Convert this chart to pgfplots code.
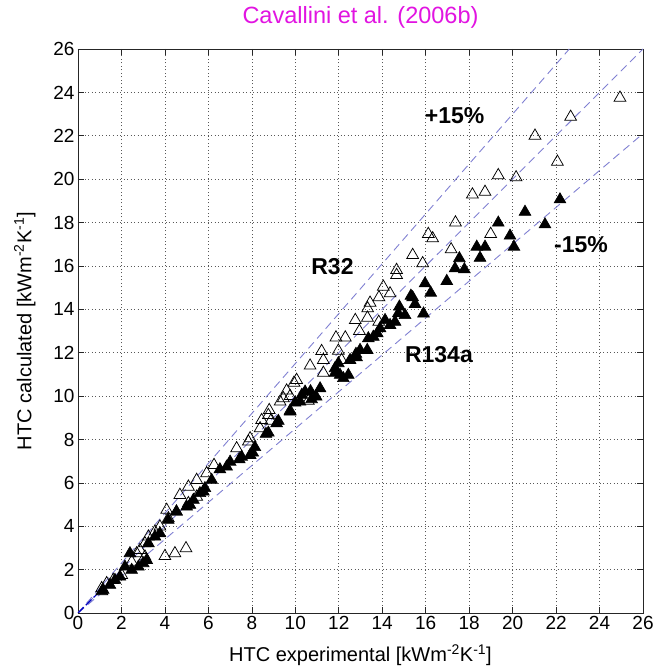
\documentclass[border=0pt]{standalone}
\usepackage{fontspec}
\setmainfont{Liberation Sans}
\usepackage{pgfplots}
\pgfplotsset{compat=1.18}
\definecolor{refline}{RGB}{128,128,210}
\definecolor{titlemag}{RGB}{225,20,225}
\begin{document}
\begin{tikzpicture}
\useasboundingbox (-78pt,-56pt) rectangle (585pt,613pt);
\begin{axis}[
  at={(0,0)}, anchor=south west,
  scale only axis, width=565pt, height=564pt,
  xmin=0, xmax=26, ymin=0, ymax=26,
  xtick={0,2,...,26}, ytick={0,2,...,26},
  tick align=inside, major tick length=6pt,
  grid=major, major grid style={dash pattern=on 1pt off 2.5pt, black!65, line width=0.6pt},
  axis line style={line width=0.7pt, black!85},
  tick style={black!85, line width=0.6pt},
  ticklabel style={font=\fontsize{19}{22}\selectfont},
  /pgf/number format/assume math mode=true,
  xlabel={HTC experimental [kWm\textsuperscript{-2}K\textsuperscript{-1}]},
  ylabel={HTC calculated [kWm\textsuperscript{-2}K\textsuperscript{-1}]},
  xlabel style={font=\fontsize{20}{24}\selectfont, at={(axis description cs:0.5,-0.0745)}, anchor=center},
  ylabel style={font=\fontsize{20}{24}\selectfont, at={(axis description cs:-0.094,0.5)}, anchor=center},
  title={Cavallini et al. (2006b)},
  title style={font=\fontsize{23.5}{27}\selectfont, text=titlemag, at={(axis description cs:0.5,1.0445)}, anchor=center},
]
% reference lines
\addplot[refline, dash pattern=on 8pt off 5pt, line width=0.9pt] coordinates {(0,0) (26,26)};
\addplot[refline, dash pattern=on 8pt off 5pt, line width=0.9pt] coordinates {(0,0) (22.609,26)};
\addplot[refline, dash pattern=on 8pt off 5pt, line width=0.9pt] coordinates {(0,0) (26,22.1)};
\addplot[blue!75!black, dash pattern=on 8pt off 3pt, line width=1.1pt] coordinates {(0,0) (0.9,0.9)};

% R134a (filled)
\addplot[only marks, mark=triangle*, mark size=6.8pt, mark options={draw=black, fill=black, line width=0.6pt}] coordinates {
(1.1,1.0) (1.16,1.06) (1.47,1.29) (1.7,1.52) (1.93,1.67) (2.16,2.13) (2.39,2.75) (2.47,1.98)
(2.78,2.13) (3.0,2.29) (3.16,2.44) (3.24,3.21) (3.54,3.52) (3.77,3.67) (4.15,4.29) (4.53,4.67)
(5.0,4.9) (5.15,4.98) (5.31,5.21) (5.61,5.52) (5.77,5.59) (5.84,5.75) (6.15,6.13) (6.53,6.62)
(6.84,6.74) (7.0,6.97) (7.42,7.08) (7.53,7.2) (7.92,7.28) (8.04,7.39) (8.14,7.64) (8.65,8.25)
(8.76,8.31) (9.14,8.74) (9.22,8.85) (9.76,9.28) (9.99,9.69) (10.22,9.74) (10.75,9.85) (10.96,9.97)
(10.3,10.05) (10.45,10.2) (10.7,10.22) (11.14,10.35) (12.21,10.82) (12.06,10.97) (12.44,10.97)
(11.83,11.07) (11.83,11.28) (11.98,11.51) (12.52,11.66) (12.82,11.78) (12.79,11.94) (12.98,12.12)
(13.31,12.12) (13.36,12.66) (13.59,12.73) (13.77,12.89) (13.9,13.12) (14.36,13.27) (14.59,13.42)
(14.13,13.5) (15.05,13.73) (14.74,13.81) (14.79,14.12) (15.9,13.8) (15.51,14.24) (15.4,14.55)
(15.32,14.62) (16.23,14.76) (15.97,15.19) (16.97,15.3) (17.78,15.84) (17.35,15.88) (17.55,16.35)
(18.5,16.37) (18.35,16.88) (18.73,16.88) (20.06,16.88) (19.88,17.39) (21.49,17.91) (19.34,17.99)
(20.57,18.49) (22.18,19.06)
};
% R32 (open)
\addplot[only marks, mark=triangle, mark size=6.8pt, mark options={draw=black, line width=0.75pt}] coordinates {
(1.09,1.14) (1.32,1.37) (1.62,1.52) (2.01,1.75) (2.47,2.36) (2.7,2.75) (2.85,2.9) (3.08,2.6)
(3.08,3.21) (3.24,3.52) (3.54,3.75) (3.77,3.98) (4.16,4.36) (4.08,4.75) (4.53,4.67) (4.0,2.62)
(4.46,2.75) (4.97,2.98) (4.69,5.44) (5.08,5.06) (5.46,5.36) (5.08,5.82) (5.46,6.13) (5.92,6.44)
(6.26,6.82) (7.3,7.59) (7.84,7.9) (7.92,8.05) (8.38,8.51) (8.45,8.89) (8.87,8.86) (8.76,9.12)
(8.8,9.35) (9.3,9.74) (9.45,9.9) (9.76,10.0) (9.6,10.25) (9.76,9.32) (9.94,10.61) (10.06,10.74)
(10.6,9.78) (10.68,11.4) (11.29,11.07) (11.29,11.66) (12.13,11.66) (11.21,12.07) (11.98,12.09)
(11.87,12.7) (12.3,12.7) (12.95,13.0) (12.76,13.5) (13.84,13.42) (13.32,13.61) (13.33,14.04)
(13.44,14.3) (14.85,13.86) (13.85,14.55) (14.36,14.73) (14.05,15.04) (14.66,15.58) (14.66,15.81)
(15.86,16.12) (15.4,16.5) (17.17,16.76) (16.32,17.27) (16.12,17.47) (18.99,17.47) (17.37,18.0)
(18.15,19.29) (18.73,19.41) (19.34,20.18) (20.16,20.08) (22.06,20.8) (21.03,22.0) (22.67,22.87)
(24.94,23.75)
};
\node[font=\bfseries\fontsize{23}{27}\selectfont] at (axis cs:17.33,22.93) {+15\%};
\node[font=\bfseries\fontsize{23}{27}\selectfont] at (axis cs:23.15,16.96) {-15\%};
\node[font=\bfseries\fontsize{23}{27}\selectfont] at (axis cs:11.71,15.97) {R32};
\node[font=\bfseries\fontsize{23}{27}\selectfont] at (axis cs:16.61,11.89) {R134a};
\end{axis}
\end{tikzpicture}
\end{document}
